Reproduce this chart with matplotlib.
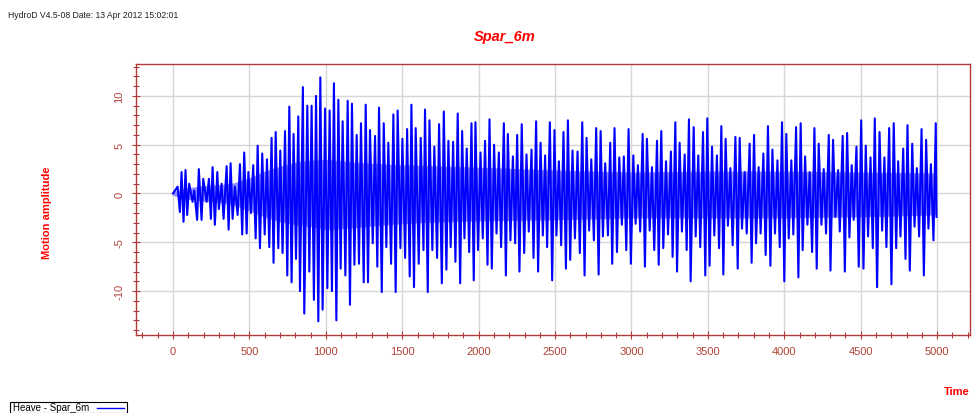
import numpy as np
import matplotlib
matplotlib.use("Agg")
import matplotlib.pyplot as plt
from matplotlib.ticker import MultipleLocator
from matplotlib.lines import Line2D
from matplotlib.patches import Rectangle

plt.rcParams['font.family'] = ['Liberation Sans', 'DejaVu Sans']
plt.rcParams['axes.unicode_minus'] = False

# ---- data (time [s], heave amplitude) ----
up_t = [30, 56, 82, 106, 139, 169, 198, 235, 259, 290, 318, 351, 377, 405, 438, 466, 493, 525, 554, 584,
        615, 645, 672, 702, 733, 761, 789, 820,
        850, 879, 907, 936, 964, 995, 1025, 1053, 1082, 1110, 1143, 1171, 1202, 1230, 1261, 1289, 1322, 1348,
        1379, 1409, 1442, 1470, 1501, 1532, 1560, 1588, 1621, 1649, 1678,
        1710, 1741, 1772, 1802, 1833, 1863, 1892, 1922, 1953, 1979, 2012, 2042, 2071, 2101, 2132, 2165, 2191,
        2224, 2252, 2282, 2313, 2346, 2376, 2405, 2435, 2466, 2496, 2525,
        2555, 2584, 2614, 2647, 2678, 2706, 2737, 2769, 2798, 2828, 2861, 2889, 2920, 2950, 2981, 3012, 3042,
        3073, 3101, 3134, 3167, 3195, 3226, 3258, 3287, 3315, 3348, 3376,
        3407, 3437, 3468, 3496, 3527, 3559, 3588, 3616, 3647, 3680, 3708, 3741, 3773, 3802, 3832, 3863, 3893,
        3922, 3955, 3985, 4013, 4046, 4077, 4107, 4136, 4166, 4197, 4225,
        4258, 4291, 4319, 4352, 4382, 4411, 4441, 4472, 4503, 4533, 4564, 4592, 4623, 4655, 4686, 4716, 4745,
        4778, 4806, 4837, 4867, 4898, 4928, 4959, 4991]
up_v = [0.7, 2.2, 2.4, 1.0, 0.3, 2.5, 1.5, 1.5, 2.7, 2.2, 1.0, 2.8, 3.1, 0.7, 3.0, 4.2, 2.2, 2.9, 4.9, 4.1,
        3.5, 5.7, 6.3, 4.4, 6.4, 8.9, 6.1, 7.9,
        10.9, 9.0, 9.0, 10.0, 11.9, 8.7, 8.5, 11.3, 9.6, 7.4, 9.5, 9.2, 6.0, 7.2, 9.1, 6.5, 5.9, 8.8,
        7.2, 5.2, 8.1, 8.5, 5.6, 6.6, 9.1, 6.7, 5.7, 8.6, 7.5,
        4.8, 7.1, 8.4, 5.4, 5.3, 8.2, 6.4, 4.6, 7.2, 7.3, 4.2, 5.4, 7.6, 5.0, 4.2, 7.2, 6.1,
        3.8, 6.0, 7.1, 4.0, 4.5, 7.4, 5.2, 3.9, 7.3, 6.5, 3.3,
        6.3, 7.5, 4.4, 4.3, 7.3, 5.7, 3.5, 6.7, 6.4, 3.1, 5.2, 6.7, 3.7, 3.8, 6.6, 3.9, 2.9,
        6.1, 5.6, 2.7, 5.4, 6.4, 3.3, 4.3, 7.3, 5.2, 4.0, 7.6,
        6.8, 3.9, 6.3, 7.7, 4.8, 3.9, 6.9, 5.6, 2.6, 5.8, 5.7, 2.2, 5.1, 6.0, 2.7, 4.1, 6.9,
        4.5, 3.4, 7.3, 6.1, 3.4, 6.8, 7.2, 3.8, 2.2, 6.7, 5.1,
        2.5, 6.0, 5.5, 2.4, 5.9, 6.2, 2.9, 4.8, 7.5, 4.9, 3.7, 7.7, 6.3, 3.7, 6.7, 7.2, 3.3,
        4.6, 7.0, 5.1, 2.6, 6.6, 5.5, 3.0, 7.2]

down_t = [45, 69, 93, 128, 158, 187, 220, 248, 274, 300, 331, 364, 390, 423, 453, 482, 510, 541, 569, 600,
          630, 658, 689, 717, 748, 776, 805, 831,
          859, 892, 922, 951, 979, 1010, 1040, 1069, 1097, 1128, 1158, 1187, 1217, 1248, 1276, 1307, 1337,
          1366, 1396, 1427, 1457, 1488, 1519, 1549, 1577, 1608, 1639, 1667,
          1697, 1728, 1759, 1789, 1817, 1848, 1879, 1907, 1938, 1968, 1996, 2027, 2058, 2086, 2117, 2147,
          2178, 2208, 2239, 2267, 2298, 2328, 2359, 2389, 2420, 2448, 2481, 2509,
          2540, 2571, 2599, 2630, 2662, 2693, 2723, 2754, 2785, 2813, 2846, 2874, 2905, 2937, 2966, 2996,
          3027, 3057, 3088, 3119, 3149, 3178, 3208, 3239, 3269, 3298, 3330, 3361, 3387,
          3420, 3450, 3483, 3511, 3542, 3573, 3601, 3631, 3662, 3695, 3723, 3754, 3786, 3815, 3845, 3878,
          3909, 3939, 3970, 4000, 4029, 4059, 4092, 4120, 4151, 4182, 4212,
          4243, 4273, 4302, 4334, 4363, 4396, 4426, 4454, 4487, 4518, 4548, 4579, 4607, 4640, 4668, 4701,
          4732, 4760, 4793, 4821, 4852, 4882, 4913, 4943, 4976, 4996]
down_v = [-1.9, -2.9, -2.2, -0.85, -2.7, -2.7, -0.85, -2.6, -3.2, -1.6, -2.6, -3.7, -2.6, -2.2, -4.2, -4.1,
          -2.0, -4.6, -5.6, -4.2, -5.5, -7.1, -5.6, -6.1, -8.4, -9.1, -6.7, -10.0,
          -12.3, -8.0, -10.9, -13.1, -11.9, -9.7, -10.0, -13.0, -7.7, -8.4, -11.4, -7.3, -7.2, -9.1, -9.1,
          -5.1, -7.5, -10.1, -5.5, -7.2, -10.1, -5.6, -6.6, -8.5, -9.6, -7.2, -5.8, -10.1,
          -5.8, -6.6, -9.2, -7.8, -5.5, -7.0, -9.2, -4.6, -6.0, -8.9, -5.8, -4.6, -7.3, -7.7, -4.1, -5.5,
          -8.4, -4.8, -5.1, -8.0, -6.1, -3.9, -6.6, -8.0, -4.3, -5.5, -8.9, -4.3,
          -5.3, -7.7, -6.8, -4.6, -6.1, -8.4, -3.8, -4.8, -8.3, -4.4, -4.3, -7.2, -6.0, -3.2, -5.8, -7.2,
          -3.1, -3.9, -7.5, -3.8, -5.8, -7.3, -5.6, -4.2, -6.5, -8.0, -3.9, -5.8, -9.0,
          -4.4, -5.5, -8.4, -7.4, -4.3, -5.6, -8.3, -3.3, -5.3, -7.7, -3.6, -4.1, -7.1, -5.1, -4.1, -6.3,
          -7.4, -4.1, -5.5, -9.0, -4.6, -4.2, -8.6, -5.8, -3.2, -6.0, -7.7,
          -3.2, -4.1, -7.9, -2.4, -3.9, -8.0, -4.5, -2.7, -7.5, -7.7, -4.4, -5.6, -9.6, -3.8, -5.5, -9.3,
          -5.6, -4.4, -6.7, -7.9, -3.4, -4.4, -8.4, -3.6, -4.8, -2.4]

# inner (wave-frequency) band envelope
band_t = [0, 100, 200, 300, 400, 500, 600, 700, 800, 900, 1000, 1200, 1400, 1600, 1800, 2000, 2500,
          3000, 3500, 4000, 4500, 4996]
band_hi = [0.2, 0.6, 0.8, 0.9, 1.1, 1.6, 2.3, 2.8, 3.2, 3.4, 3.5, 3.2, 3.0, 2.9, 2.8, 2.7, 2.4,
           2.2, 2.3, 2.3, 2.2, 2.1]
band_lo = [-0.2, -0.6, -0.8, -0.9, -1.2, -1.8, -2.4, -2.9, -3.2, -3.4, -3.7, -3.5, -3.2, -3.0, -2.9,
           -2.8, -2.7, -2.5, -2.5, -2.5, -2.4, -2.2]

series_label = "Heave - Spar_6m"
title = "Spar_6m"
header = "HydroD V4.5-08 Date: 13 Apr 2012 15:02:01"

# ---- build the trace from the read extremes ----
t_all = np.array([0.0] + up_t + down_t, dtype=float)
v_all = np.array([0.0] + up_v + down_v, dtype=float)
order = np.argsort(t_all, kind="stable")
t_all, v_all = t_all[order], v_all[order]

W, H = 972, 414
fig = plt.figure(figsize=(W / 100, H / 100), dpi=100)
L, R, T, B = 135.7, 970.0, 64.7, 336.0
ax = fig.add_axes([L / W, 1 - B / H, (R - L) / W, (B - T) / H])

axis_red = '#b23a3a'
lab_red = '#b04238'

ax.fill_between(band_t, band_lo, band_hi, color='#8e8eff', lw=0, zorder=2)
ax.plot(t_all, v_all, color='#0000ff', lw=1.5, zorder=3)

ax.set_xlim(-244, 5215)
ax.set_ylim(-14.5, 13.3)
ax.xaxis.set_major_locator(MultipleLocator(500))
ax.xaxis.set_minor_locator(MultipleLocator(100))
ax.yaxis.set_major_locator(MultipleLocator(5))
ax.yaxis.set_minor_locator(MultipleLocator(1))
ax.grid(True, which='major', color='#d6d6d6', lw=1.0, zorder=0)
ax.set_axisbelow(True)

for s in ax.spines.values():
    s.set_color(axis_red)
    s.set_linewidth(1.0)

ax.tick_params(axis='both', which='both', direction='inout', colors=axis_red,
               labelcolor=lab_red, labelsize=8)
ax.tick_params(axis='both', which='major', length=6, width=0.8)
ax.tick_params(axis='both', which='minor', length=4, width=0.8)
ax.tick_params(axis='x', pad=5)
ax.tick_params(axis='y', pad=5)
for lbl in ax.get_yticklabels():
    lbl.set_rotation(90)
    lbl.set_va('center')

fig.text(8 / W, 1 - 15 / H, header, fontsize=6.2, color='#202020', va='center', ha='left')
fig.text(505 / W, 1 - 37 / H, title, fontsize=10.5, color='#ff0000', fontweight='bold',
         fontstyle='italic', ha='center', va='center')
fig.text(47 / W, 1 - 213 / H, "Motion amplitude", fontsize=8, color='#ff0000', fontweight='bold',
         rotation=90, ha='center', va='center')
fig.text(970 / W, 1 - 392 / H, "Time", fontsize=8, color='#ff0000', fontweight='bold',
         ha='right', va='center')

# legend box at bottom-left
fig.patches.append(Rectangle((10 / W, 0), 117 / W, 11 / H, transform=fig.transFigure,
                             facecolor='white', edgecolor='black', lw=0.8))
fig.text(13 / W, 1 - 408 / H, series_label, fontsize=7, color='black', ha='left', va='center')
fig.lines.append(Line2D([97 / W, 124 / W], [1 - 409 / H, 1 - 409 / H], transform=fig.transFigure,
                        color='#0000ff', lw=1.0))

fig.savefig("out.png", dpi=100)
